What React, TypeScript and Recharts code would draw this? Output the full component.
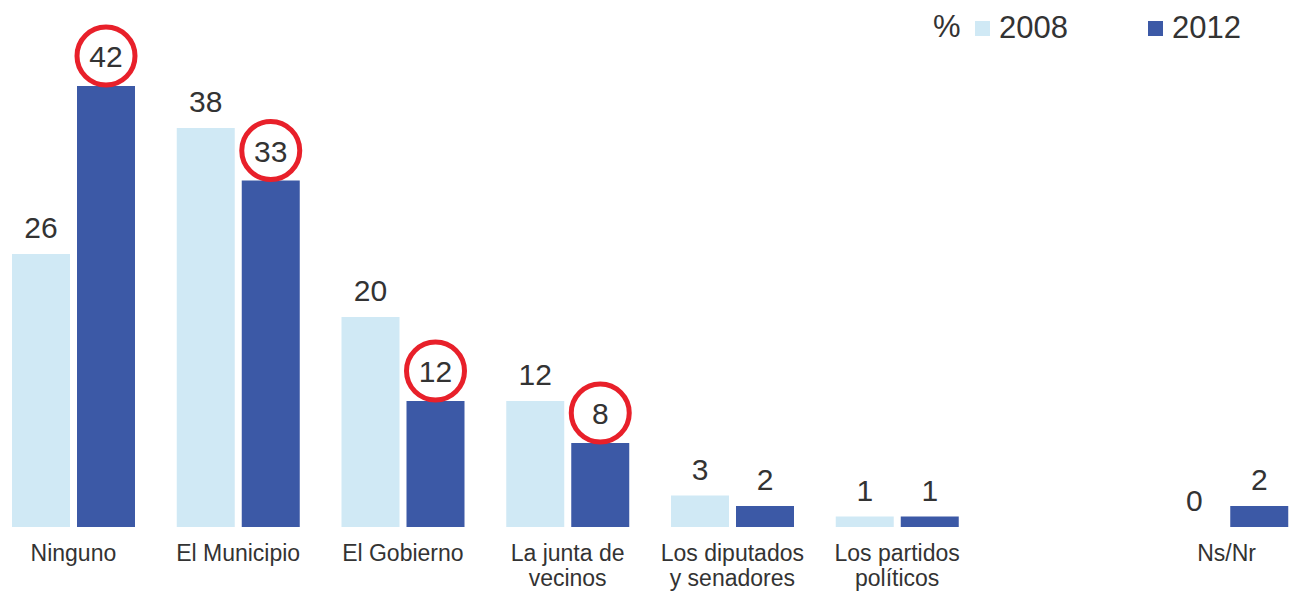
import { Bar, BarChart, Rectangle, XAxis, YAxis } from "recharts";

const categories = [
  "Ninguno",
  "El Municipio",
  "El Gobierno",
  "La junta de\nvecinos",
  "Los diputados\ny senadores",
  "Los partidos\npolíticos",
  "",
  "Ns/Nr",
];
const values2008: (number | null)[] = [26, 38, 20, 12, 3, 1, null, 0];
const values2012: (number | null)[] = [42, 33, 12, 8, 2, 1, null, 2];
const circled2012 = [true, true, true, true, false, false, false, false];

const LIGHT = "#d0e9f5";
const DARK = "#3c59a6";
const TEXT = "#333333";
const RED = "#e8202a";
const FONT = "'Liberation Sans', Arial, sans-serif";

const data = categories.map((name, i) => ({
  name,
  y2008: values2008[i],
  y2012: values2012[i],
}));

function valueText(cx: number, baseY: number, value: any, key: string) {
  return (
    <text key={key} x={cx} y={baseY} textAnchor="middle" fontSize={30} fill={TEXT} fontFamily={FONT}>
      {value}
    </text>
  );
}

function ValueLabel(props: any, circledFlags?: boolean[]) {
  const { x, y, width, value, index } = props;
  if (value === null || value === undefined || value === 0) return null;
  const cx = Number(x) + Number(width) / 2;
  const circled = circledFlags ? circledFlags[index] : false;
  if (circled) {
    const cy = Number(y) - 30;
    return (
      <g key={`c-${index}`}>
        <circle cx={cx} cy={cy} r={29} fill="#fff" stroke={RED} strokeWidth={5} />
        {valueText(cx, cy + 11, value, `t-${index}`)}
      </g>
    );
  }
  return valueText(cx, Number(y) - 16, value, `v-${index}`);
}

// zero-height bars get no label from recharts, so the shape draws it
function BarWithZero(props: any, key: "y2008" | "y2012") {
  const v = props.payload ? props.payload[key] : undefined;
  const cx = Number(props.x) + Number(props.width) / 2;
  return (
    <g>
      <Rectangle {...props} />
      {v === 0 ? valueText(cx, Number(props.y) + Number(props.height) - 16, 0, "zero") : null}
    </g>
  );
}

function CategoryTick(props: any) {
  const { x, y, payload } = props;
  const lines = String(payload.value).split("\n");
  return (
    <text x={x} y={y} textAnchor="middle" fontSize={23} fill={TEXT} fontFamily={FONT}>
      {lines.map((line, i) => (
        <tspan key={i} x={x} dy={i === 0 ? 34 : 25}>
          {line}
        </tspan>
      ))}
    </text>
  );
}

function LegendBox() {
  const items = [
    { label: "2008", color: LIGHT, left: 975 },
    { label: "2012", color: DARK, left: 1148 },
  ];
  return (
    <div style={{ position: "absolute", top: 0, left: 0, fontFamily: FONT, color: TEXT }}>
      <span style={{ position: "absolute", left: 933, top: 10, fontSize: 31, lineHeight: "34px" }}>%</span>
      {items.map((it) => (
        <div key={it.label}>
          <div
            style={{
              position: "absolute",
              left: it.left,
              top: 21,
              width: 15,
              height: 15,
              background: it.color,
            }}
          />
          <span
            style={{
              position: "absolute",
              left: it.left + 24,
              top: 11,
              fontSize: 31,
              lineHeight: "34px",
            }}
          >
            {it.label}
          </span>
        </div>
      ))}
    </div>
  );
}

export default function App() {
  return (
    <div
      style={{
        position: "absolute",
        left: 0,
        top: 0,
        width: 1291,
        height: 592,
        overflow: "hidden",
        background: "#fff",
      }}
    >
      <div style={{ position: "absolute", left: -9, top: 0 }}>
        <BarChart
          width={1318}
          height={592}
          data={data}
          margin={{ top: 86, right: 0, left: 0, bottom: 0 }}
          barSize={58}
          barGap={7}
        >
          <XAxis
            dataKey="name"
            axisLine={false}
            tickLine={false}
            tickSize={0}
            tickMargin={0}
            height={65}
            interval={0}
            tick={CategoryTick}
          />
          <YAxis hide domain={[0, 42]} />
          <Bar
            dataKey="y2008"
            fill={LIGHT}
            isAnimationActive={false}
            shape={(p: any) => BarWithZero(p, "y2008")}
            label={(p: any) => ValueLabel(p)}
          />
          <Bar
            dataKey="y2012"
            fill={DARK}
            isAnimationActive={false}
            shape={(p: any) => BarWithZero(p, "y2012")}
            label={(p: any) => ValueLabel(p, circled2012)}
          />
        </BarChart>
      </div>
      <LegendBox />
    </div>
  );
}
